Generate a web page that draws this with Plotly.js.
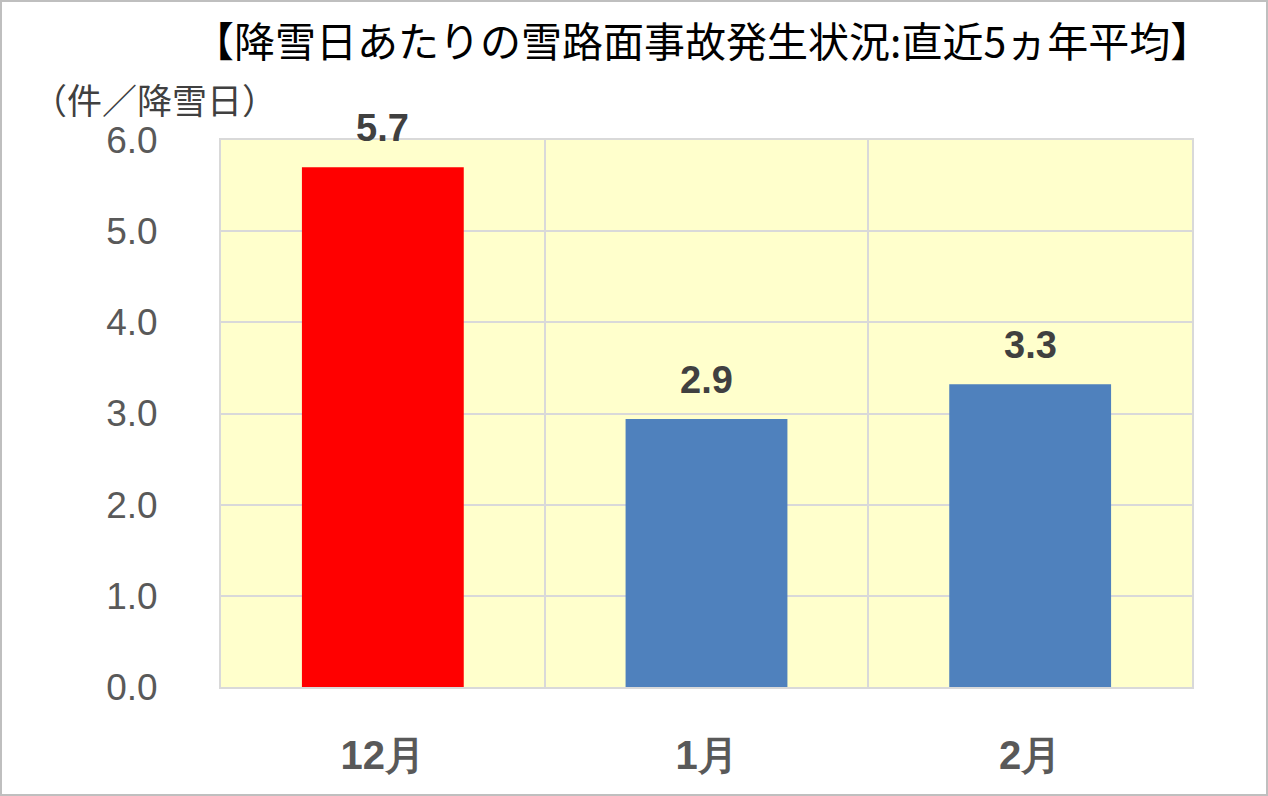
<!DOCTYPE html>
<html>
<head>
<meta charset="utf-8">
<script src="https://cdn.plot.ly/plotly-3.0.1.min.js"></script>
<style>
  body { margin: 0; background: #fff; }
  #chart { width: 1264px; height: 792px; border: 2px solid #BFBFBF; }
</style>
</head>
<body>
<div id="chart"></div>
<script>
var months = ['12月', '1月', '2月']
var accidents = [5.7, 2.94, 3.32]
var accidentLabels = ['5.7', '2.9', '3.3']
var barColors = ['#FF0000', '#4F81BD', '#4F81BD']
var yTicks = [0, 1, 2, 3, 4, 5, 6]

var numFont = '"Liberation Sans", sans-serif'
var jpFont = '"Noto Sans CJK JP", sans-serif'

var trace = {
    x: months,
    y: accidents,
    type: 'bar',
    marker: { color: barColors },
    hoverinfo: 'none'
}

// value labels sit a little above each bar
var labels = months.map(function (m, i) {
    return {
        x: m, y: accidents[i], text: '<b>' + accidentLabels[i] + '</b>',
        xref: 'x', yref: 'y', showarrow: false, yanchor: 'bottom', yshift: 16,
        font: { family: numFont, size: 38, color: '#404040' }
    }
})

labels.push({
    text: '【降雪日あたりの雪路面事故発生状況:直近5ヵ年平均】',
    xref: 'paper', yref: 'paper', x: 0.495, y: 1.185, xanchor: 'center', yanchor: 'middle',
    showarrow: false, font: { family: jpFont, size: 41, color: '#000000' }
})
labels.push({
    text: '（件／降雪日）',
    xref: 'paper', yref: 'paper', x: -0.197, y: 1.075, xanchor: 'left', yanchor: 'middle',
    showarrow: false, font: { family: jpFont, size: 35, color: '#404040' }
})

var layout = {
    width: 1264,
    height: 792,
    margin: { l: 219, r: 74, t: 138, b: 107 },
    paper_bgcolor: '#FFFFFF',
    plot_bgcolor: '#FFFFCC',
    bargap: 0.5,
    showlegend: false,
    xaxis: {
        type: 'category',
        tickson: 'boundaries',
        showgrid: true,
        gridcolor: '#D9D9D9',
        gridwidth: 2,
        showline: true,
        linecolor: '#D9D9D9',
        linewidth: 2,
        mirror: true,
        ticks: '',
        ticklabelstandoff: 32,
        tickfont: { family: numFont, size: 40, color: '#595959', weight: 'bold' }
    },
    yaxis: {
        range: [0, 6],
        tickvals: yTicks,
        tickformat: '.1f',
        showgrid: true,
        gridcolor: '#D9D9D9',
        gridwidth: 2,
        zeroline: false,
        showline: true,
        linecolor: '#D9D9D9',
        linewidth: 2,
        mirror: true,
        ticks: '',
        ticklabelstandoff: 54,
        tickfont: { family: numFont, size: 37, color: '#595959' }
    },
    annotations: labels
}

Plotly.newPlot('chart', [trace], layout, { displayModeBar: false, staticPlot: true })
</script>
</body>
</html>
